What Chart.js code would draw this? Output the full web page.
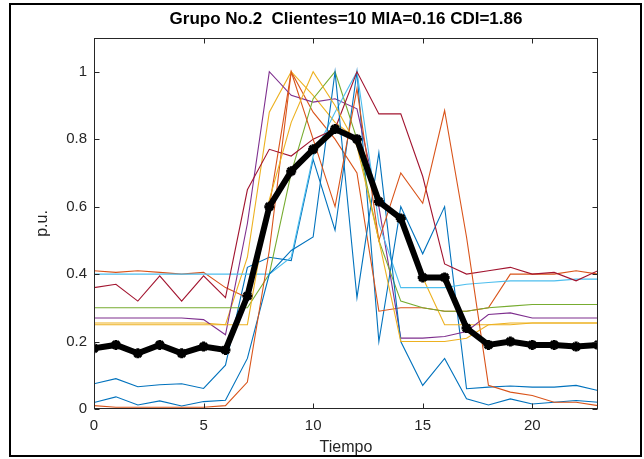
<!DOCTYPE html>
<html lang="es">
<head>
  <meta charset="UTF-8" />
  <title>Grupo No.2</title>
  <script src="https://cdn.jsdelivr.net/npm/chart.js"></script>
  <style>
    * { box-sizing: border-box; }
    html, body { margin: 0; padding: 0; background: #fff; }
    #wrap { position: relative; width: 644px; height: 459px; }
    #grafico { position: absolute; left: 0; top: 0; }
    #marco {
      position: absolute; left: 9px; top: 3px; right: 2px; bottom: 2px;
      border: 2px solid #000; pointer-events: none;
    }
  </style>
</head>
<body>
  <div id="wrap">
    <canvas id="grafico" width="644" height="459"></canvas>
    <div id="marco"></div>
  </div>

  <script>
    // --- datos: hora del día y perfiles normalizados (p.u.) ---
    const horas = [0,1,2,3,4,5,6,7,8,9,10,11,12,13,14,15,16,17,18,19,20,21,22,23];

    const azul1     = [0.075,0.09,0.066,0.072,0.075,0.061,0.13,0.42,0.45,0.44,0.74,0.53,1.0,0.2,0.60,0.46,0.60,0.06,0.065,0.068,0.065,0.065,0.07,0.055];
    const naranja1  = [0.41,0.405,0.41,0.405,0.40,0.405,0.36,0.33,0.60,1.0,0.88,0.80,0.70,0.29,0.30,0.30,0.29,0.29,0.30,0.40,0.40,0.40,0.41,0.40];
    const amarillo1 = [0.255,0.255,0.255,0.255,0.255,0.255,0.25,0.45,0.88,1.0,0.93,0.85,0.80,0.62,0.56,0.39,0.25,0.25,0.25,0.25,0.255,0.255,0.255,0.255];
    const morado    = [0.27,0.27,0.27,0.27,0.27,0.265,0.22,0.55,1.0,0.93,0.91,0.92,0.89,0.6,0.21,0.21,0.215,0.23,0.28,0.285,0.27,0.27,0.27,0.27];
    const verde     = [0.30,0.30,0.30,0.30,0.30,0.30,0.30,0.30,0.40,0.70,0.92,1.0,0.80,0.50,0.32,0.30,0.29,0.29,0.30,0.305,0.31,0.31,0.31,0.31];
    const celeste   = [0.40,0.40,0.40,0.40,0.40,0.40,0.40,0.40,0.40,0.45,0.75,0.88,1.0,0.55,0.36,0.36,0.36,0.37,0.375,0.38,0.38,0.38,0.385,0.385];
    const granate   = [0.36,0.37,0.32,0.395,0.32,0.395,0.33,0.65,0.77,0.75,0.80,0.83,1.0,0.875,0.875,0.69,0.43,0.40,0.41,0.42,0.40,0.405,0.38,0.41];
    const azul2     = [0.019,0.036,0.012,0.024,0.009,0.022,0.026,0.15,0.40,0.47,0.51,1.0,0.33,0.76,0.20,0.07,0.15,0.03,0.012,0.03,0.015,0.02,0.025,0.02];
    const naranja2  = [0.01,0.005,0.005,0.005,0.005,0.005,0.01,0.08,0.47,1.0,0.80,0.60,0.95,0.50,0.70,0.61,0.885,0.51,0.07,0.05,0.04,0.02,0.02,0.01];
    const amarillo2 = [0.25,0.25,0.25,0.25,0.25,0.25,0.25,0.25,0.62,0.85,1.0,0.90,0.78,0.50,0.20,0.20,0.20,0.21,0.25,0.255,0.255,0.255,0.255,0.255];

    // centroide del grupo
    const promedio  = [0.18,0.19,0.165,0.19,0.165,0.185,0.175,0.335,0.60,0.705,0.77,0.83,0.80,0.615,0.565,0.39,0.39,0.24,0.19,0.20,0.19,0.19,0.185,0.19];

    const xTicks = [0, 5, 10, 15, 20];
    const yTicks = [0, 0.2, 0.4, 0.6, 0.8, 1];
    const titulo = 'Grupo No.2  Clientes=10 MIA=0.16 CDI=1.86';

    // orden de colores por defecto de MATLAB
    const clientes = [
      { datos: azul1,     color: '#0072BD' },
      { datos: naranja1,  color: '#D95319' },
      { datos: amarillo1, color: '#EDB120' },
      { datos: morado,    color: '#7E2F8E' },
      { datos: verde,     color: '#77AC30' },
      { datos: celeste,   color: '#4DBEEE' },
      { datos: granate,   color: '#A2142F' },
      { datos: azul2,     color: '#0072BD' },
      { datos: naranja2,  color: '#D95319' },
      { datos: amarillo2, color: '#EDB120' }
    ];

    const puntos = arr => arr.map((v, i) => ({ x: horas[i], y: v }));

    const datasets = clientes.map((c, i) => ({
      data: puntos(c.datos),
      borderColor: c.color,
      borderWidth: 1.1,
      pointRadius: 0,
      tension: 0,
      order: 1 + (clientes.length - i)
    }));

    datasets.push({
      data: puntos(promedio),
      borderColor: '#000',
      backgroundColor: '#000',
      borderWidth: 6,
      pointStyle: 'star',
      pointRadius: 5,
      pointBorderWidth: 3,
      pointBorderColor: '#000',
      tension: 0,
      order: 0
    });

    const ejeColor = '#262626';
    const fuente = 'Liberation Sans, Arial, sans-serif';

    // caja de ejes con marcas hacia adentro en los cuatro lados, y título centrado sobre los ejes
    const cajaEjes = {
      id: 'cajaEjes',
      afterDraw(chart) {
        const { ctx, chartArea: a, scales } = chart;
        const L = Math.round(a.left) + 0.5, R = Math.round(a.right) - 0.5;
        const T = Math.round(a.top) + 0.5, B = Math.round(a.bottom) - 0.5;
        ctx.save();
        ctx.strokeStyle = ejeColor;
        ctx.lineWidth = 1;
        ctx.strokeRect(L, T, R - L, B - T);
        ctx.beginPath();
        xTicks.forEach(v => {
          const px = Math.round(scales.x.getPixelForValue(v)) + 0.5;
          ctx.moveTo(px, B); ctx.lineTo(px, B - 5);
          ctx.moveTo(px, T); ctx.lineTo(px, T + 5);
        });
        yTicks.forEach(v => {
          const py = Math.round(scales.y.getPixelForValue(v)) + 0.5;
          ctx.moveTo(L, py); ctx.lineTo(L + 5, py);
          ctx.moveTo(R, py); ctx.lineTo(R - 5, py);
        });
        ctx.stroke();

        ctx.fillStyle = '#000';
        ctx.font = 'bold 17px ' + fuente;
        ctx.textAlign = 'center';
        ctx.textBaseline = 'middle';
        ctx.fillText(titulo, (a.left + a.right) / 2, 19);
        ctx.restore();
      }
    };

    new Chart(document.getElementById('grafico'), {
      type: 'line',
      data: { datasets },
      plugins: [cajaEjes],
      options: {
        responsive: false,
        animation: false,
        layout: { padding: { left: 0, right: 46, top: 38, bottom: 0 } },
        plugins: {
          legend: { display: false },
          tooltip: { enabled: false },
          title: { display: false }
        },
        scales: {
          x: {
            type: 'linear',
            min: 0, max: 23,
            grid: { display: false, drawTicks: false },
            border: { display: false },
            afterBuildTicks: s => { s.ticks = xTicks.map(v => ({ value: v })); },
            afterFit: s => { s.height = 50; },
            ticks: {
              padding: 8,
              color: ejeColor,
              font: { family: fuente, size: 15 },
              maxRotation: 0
            },
            title: {
              display: true, text: 'Tiempo', color: ejeColor,
              font: { family: fuente, size: 16 },
              padding: { top: 0, bottom: 2 }
            }
          },
          y: {
            min: 0, max: 1.1,
            grid: { display: false, drawTicks: false },
            border: { display: false },
            afterBuildTicks: s => { s.ticks = yTicks.map(v => ({ value: v })); },
            afterFit: s => { s.width = 94; },
            ticks: {
              padding: 7,
              color: ejeColor,
              font: { family: fuente, size: 15 },
              callback: v => String(Math.round(v * 10) / 10)
            },
            title: {
              display: true, text: 'p.u.', color: ejeColor,
              font: { family: fuente, size: 16 },
              padding: { top: 33, bottom: 0 }
            }
          }
        }
      }
    });
  </script>
</body>
</html>
